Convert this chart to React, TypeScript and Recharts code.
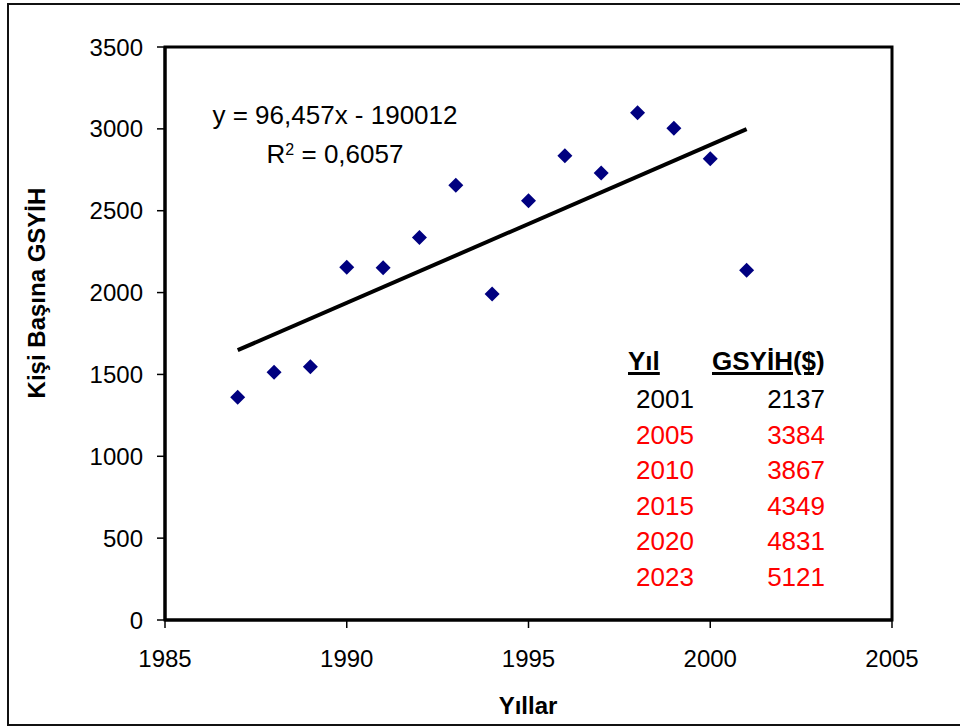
import React from 'react';
import { ComposedChart, Scatter, XAxis, YAxis, ReferenceLine, ReferenceArea } from 'recharts';

// observed GDP per capita, 1987-2001
const years = [1987, 1988, 1989, 1990, 1991, 1992, 1993, 1994, 1995, 1996, 1997, 1998, 1999, 2000, 2001];
const gdp = [1360, 1513, 1547, 2154, 2152, 2337, 2655, 1991, 2561, 2836, 2730, 3099, 3003, 2818, 2137];

// linear trend end points (as drawn)
const trendYears = [1987, 2001];
const trendValues = [1648, 2998];

const xTicks = [1985, 1990, 1995, 2000, 2005];
const yTicks = [0, 500, 1000, 1500, 2000, 2500, 3000, 3500];

// forecast table
const tableYears = ['2001', '2005', '2010', '2015', '2020', '2023'];
const tableGdp = ['2137', '3384', '3867', '4349', '4831', '5121'];

const FONT = 'Arial, "Liberation Sans", sans-serif';

const points = years.map((year, i) => ({ year, gdp: gdp[i] }));

const Diamond = (props: any) => {
  const { cx, cy } = props;
  if (cx == null || cy == null) return null;
  const w = 7.5;
  const h = 7.5;
  return <path d={`M${cx},${cy - h} L${cx + w},${cy} L${cx},${cy + h} L${cx - w},${cy} Z`} fill="#000080" />;
};

const textStyle: React.CSSProperties = {
  position: 'absolute',
  fontFamily: FONT,
  lineHeight: '26px',
  whiteSpace: 'nowrap',
};

export default function App() {
  return (
    <div style={{ position: 'absolute', left: 0, top: 0, width: 960, height: 726, overflow: 'hidden', background: '#fff' }}>
      {/* outer frame */}
      <div style={{ position: 'absolute', left: 7, top: 3, width: 1000, height: 719, border: '2px solid #111' }} />

      <ComposedChart
        width={960}
        height={726}
        margin={{ top: 47, right: 68, bottom: 46, left: 0 }}
        style={{ position: 'absolute', left: 0, top: 0 }}
      >
        <XAxis
          type="number"
          dataKey="year"
          domain={[1985, 2005]}
          ticks={xTicks}
          height={60}
          tickSize={8}
          tickMargin={22}
          axisLine={{ stroke: '#000', strokeWidth: 3 }}
          tickLine={{ stroke: '#000', strokeWidth: 1.5 }}
          tick={{ fontSize: 24, fill: '#000', fontFamily: FONT }}
          allowDataOverflow
        />
        <YAxis
          type="number"
          dataKey="gdp"
          domain={[0, 3500]}
          ticks={yTicks}
          width={165}
          tickSize={8}
          tickMargin={14}
          axisLine={{ stroke: '#000', strokeWidth: 3 }}
          tickLine={{ stroke: '#000', strokeWidth: 1.5 }}
          tick={{ fontSize: 24, fill: '#000', fontFamily: FONT }}
          allowDataOverflow
        />
        <ReferenceArea x1={1985} x2={2005} y1={0} y2={3500} fill="none" stroke="#000" strokeWidth={3} ifOverflow="visible" />
        <ReferenceLine
          segment={[
            { x: trendYears[0], y: trendValues[0] },
            { x: trendYears[1], y: trendValues[1] },
          ]}
          stroke="#000"
          strokeWidth={4}
          ifOverflow="visible"
        />
        <Scatter data={points} dataKey="gdp" shape={<Diamond />} isAnimationActive={false} />
      </ComposedChart>

      {/* regression equation */}
      <div style={{ ...textStyle, left: 335, top: 102, fontSize: 26, transform: 'translateX(-50%)' }}>
        y = 96,457x - 190012
      </div>
      <div style={{ ...textStyle, left: 335, top: 141, fontSize: 26, transform: 'translateX(-50%)' }}>
        R<sup style={{ fontSize: 16, verticalAlign: 'top', position: 'relative', top: -4 }}>2</sup> = 0,6057
      </div>

      {/* forecast table */}
      <div style={{ ...textStyle, left: 628, top: 348, fontSize: 26, fontWeight: 'bold', textDecoration: 'underline', textDecorationThickness: 3 }}>
        Yıl
      </div>
      <div style={{ ...textStyle, left: 712, top: 348, fontSize: 26, fontWeight: 'bold', textDecoration: 'underline', textDecorationThickness: 3 }}>
        GSYİH($)
      </div>
      {tableYears.map((y, i) => (
        <React.Fragment key={y}>
          <div style={{ ...textStyle, left: 636, top: 386 + i * 35.5, fontSize: 26, color: i === 0 ? '#000' : '#ff0000' }}>{y}</div>
          <div style={{ ...textStyle, right: 960 - 825, top: 386 + i * 35.5, fontSize: 26, color: i === 0 ? '#000' : '#ff0000' }}>{tableGdp[i]}</div>
        </React.Fragment>
      ))}

      {/* axis titles */}
      <div style={{ ...textStyle, left: 528, top: 693, fontSize: 24, fontWeight: 'bold', transform: 'translateX(-50%)' }}>
        Yıllar
      </div>
      <div
        style={{
          ...textStyle,
          left: 37,
          top: 293,
          fontSize: 24,
          fontWeight: 'bold',
          transform: 'translate(-50%, -50%) rotate(-90deg)',
        }}
      >
        Kişi Başına GSYİH
      </div>
    </div>
  );
}
